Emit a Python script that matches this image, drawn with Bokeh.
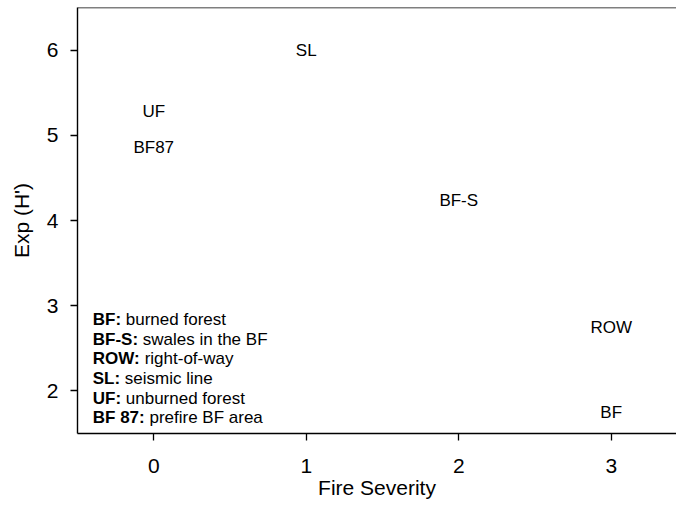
from bokeh.plotting import figure
from bokeh.models import Range1d, Span, ColumnDataSource
from bokeh.core.properties import value
from bokeh.embed import file_html
from bokeh.resources import INLINE

# ---- data ----
sites = ["SL", "UF", "BF87", "BF-S", "ROW", "BF"]
fire_severity = [1, 0, 0, 2, 3, 3]
exp_h = [6.0, 5.28, 4.86, 4.24, 2.75, 1.75]

x_ticks = [0, 1, 2, 3]
y_ticks = [2, 3, 4, 5, 6]

legend_keys = ["BF:", "BF-S:", "ROW:", "SL:", "UF:", "BF 87:"]
legend_descs = ["burned forest", "swales in the BF", "right-of-way",
                "seismic line", "unburned forest", "prefire BF area"]

# ---- style ----
FONT = "Liberation Sans"
LABEL_FS = 17
LEG_FS = 17
TICK_FS = "21px"
TITLE_FS = "21px"

# Arial/Liberation Sans Bold advance widths (per 1000 em)
BOLD_W = {"B": 722, "F": 611, ":": 333, "-": 333, "S": 667, "R": 722,
          "O": 778, "W": 944, "L": 611, "U": 722, " ": 278, "8": 556, "7": 556}

def bold_width(s, fs):
    return sum(BOLD_W.get(c, 600) for c in s) / 1000.0 * fs

p = figure(width=676, height=501,
           x_range=Range1d(-0.5, 3.428), y_range=Range1d(1.5, 6.5),
           output_backend="svg", toolbar_location=None,
           min_border_left=77, min_border_right=0,
           min_border_top=7, min_border_bottom=68)

p.background_fill_color = "white"
p.border_fill_color = "white"
p.outline_line_color = None
p.xgrid.visible = False
p.ygrid.visible = False

for ax in (p.xaxis[0], p.yaxis[0]):
    ax.axis_line_color = "black"
    ax.axis_line_width = 1.4
    ax.major_tick_line_color = "black"
    ax.major_tick_line_width = 1.3
    ax.major_tick_out = 7
    ax.major_tick_in = 0
    ax.minor_tick_line_color = None
    ax.major_label_text_font = FONT
    ax.major_label_text_font_size = TICK_FS
    ax.major_label_text_color = "black"
    ax.axis_label_text_font = FONT
    ax.axis_label_text_font_size = TITLE_FS
    ax.axis_label_text_font_style = "normal"
    ax.axis_label_text_color = "black"

p.xaxis.ticker = x_ticks
p.yaxis.ticker = y_ticks
p.xaxis.axis_label = "Fire Severity"
p.yaxis.axis_label = "Exp (H')"
p.xaxis.major_label_standoff = 18
p.xaxis.axis_label_standoff = 0
p.yaxis.major_label_standoff = 12
p.yaxis.axis_label_standoff = 11

# top frame line
p.add_layout(Span(location=6.5, dimension="width", line_color="black", line_width=1.5))

# data labels
src = ColumnDataSource(dict(x=fire_severity, y=exp_h, label=sites))
p.text(x="x", y="y", text="label", source=src,
       text_font=value(FONT), text_font_size=f"{LABEL_FS}px",
       text_align="center", text_baseline="middle", text_color="black")

# legend block (bold key + normal description)
leg_x = -0.40
leg_y0 = 2.84
leg_step = 0.231
leg_y = [leg_y0 - i * leg_step for i in range(len(legend_keys))]
offsets = [bold_width(k, LEG_FS) + 0.278 * LEG_FS for k in legend_keys]
lsrc = ColumnDataSource(dict(x=[leg_x] * len(legend_keys), y=leg_y,
                             key=legend_keys, desc=legend_descs, off=offsets))
p.text(x="x", y="y", text="key", source=lsrc,
       text_font=value(FONT), text_font_size=f"{LEG_FS}px",
       text_font_style="bold", text_align="left", text_baseline="middle",
       text_color="black")
p.text(x="x", y="y", text="desc", x_offset="off", source=lsrc,
       text_font=value(FONT), text_font_size=f"{LEG_FS}px",
       text_align="left", text_baseline="middle", text_color="black")

open("out.html", "w").write(file_html(p, INLINE))
